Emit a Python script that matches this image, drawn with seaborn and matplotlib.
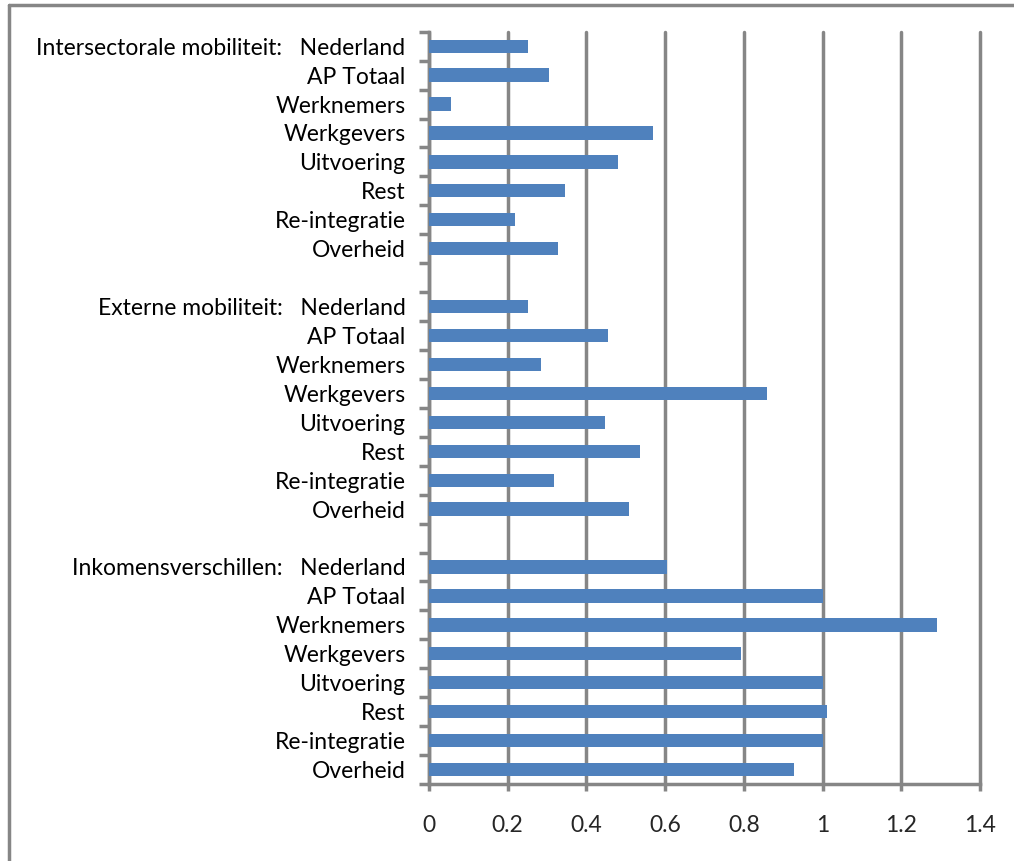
import matplotlib
matplotlib.use("Agg")
import matplotlib.pyplot as plt
import numpy as np
import pandas as pd
import seaborn as sns
from matplotlib.lines import Line2D
from matplotlib.ticker import FixedLocator

# --- data ---
groups = ["Intersectorale mobiliteit:", "Externe mobiliteit:", "Inkomensverschillen:"]
categories = ["Nederland", "AP Totaal", "Werknemers", "Werkgevers",
              "Uitvoering", "Rest", "Re-integratie", "Overheid"]
intersectoraal = [0.252, 0.304, 0.057, 0.570, 0.479, 0.346, 0.218, 0.328]
extern = [0.252, 0.456, 0.285, 0.860, 0.446, 0.537, 0.318, 0.508]
inkomen = [0.605, 1.0, 1.29, 0.794, 1.0, 1.012, 1.0, 0.928]
group_values = [intersectoraal, extern, inkomen]
xticks = [0, 0.2, 0.4, 0.6, 0.8, 1.0, 1.2, 1.4]
xtick_labels = ["0", "0.2", "0.4", "0.6", "0.8", "1", "1.2", "1.4"]

rows = []
for g, (grp, vals) in enumerate(zip(groups, group_values)):
    for i, (cat, v) in enumerate(zip(categories, vals)):
        label = f"{grp}   {cat}" if i == 0 else cat
        rows.append({"key": f"r{len(rows)}", "label": label, "value": v})
    if g < len(groups) - 1:
        rows.append({"key": f"r{len(rows)}", "label": "", "value": np.nan})
df = pd.DataFrame(rows)

sns.set_style("white")
plt.rcParams["font.family"] = ["Lato", "DejaVu Sans"]

fig = plt.figure(figsize=(10.14, 8.61), dpi=100)
ax = fig.add_axes([429 / 1014, 1 - 784 / 861, 551 / 1014, (784 - 31.7) / 861])

grid_col = "#868686"
lw = 2.5
sns.barplot(data=df.dropna(), x="value", y="key", order=list(df["key"]),
            color="#4F81BD", width=0.46, saturation=1, orient="h", ax=ax,
            edgecolor="none", zorder=3)

ax.set_xlim(0, 1.4)
ax.set_ylim(len(df) - 0.5, -0.5)
ax.set_xticks(xticks)
ax.set_xticklabels(xtick_labels)
ax.grid(axis="x", color=grid_col, linewidth=lw, zorder=0)
for gl in ax.get_xgridlines():
    gl.set_clip_on(False)
ax.set_axisbelow(True)
ax.set_xlabel("")
ax.set_ylabel("")

ax.set_yticks(range(len(df)))
ax.set_yticklabels(df["label"])
ax.yaxis.set_minor_locator(FixedLocator(np.arange(-0.5, len(df), 1.0)))
ax.tick_params(axis="y", which="major", length=0, pad=17, labelsize=16.5, colors="black")
ax.tick_params(axis="y", which="minor", length=7.5, width=lw, color=grid_col, direction="out", left=True)
ax.tick_params(axis="x", which="major", length=5, width=lw, color=grid_col, direction="out",
               pad=17, labelsize=16.5, bottom=True)

for side in ["top", "right"]:
    ax.spines[side].set_visible(False)
for side in ["left", "bottom"]:
    ax.spines[side].set_color(grid_col)
    ax.spines[side].set_linewidth(lw)

# outer chart border (top and left visible in the crop)
fig.add_artist(Line2D([9 / 1014, 9 / 1014], [0, 1 - 5 / 861], color=grid_col, linewidth=lw))
fig.add_artist(Line2D([9 / 1014, 1], [1 - 5 / 861, 1 - 5 / 861], color=grid_col, linewidth=lw))

fig.savefig("out.png", dpi=100)
